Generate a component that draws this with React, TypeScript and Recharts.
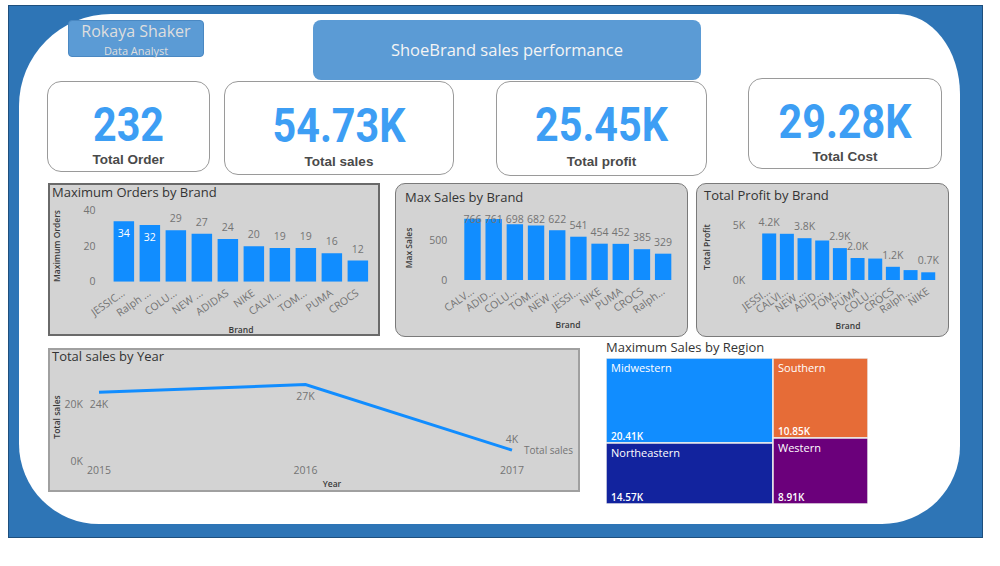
import React from 'react';
import {
  Bar,
  BarChart,
  Label,
  LabelList,
  Line,
  LineChart,
  Treemap,
  XAxis,
  YAxis
} from 'recharts';

// ---- data ----
const kpiLabels = ['Total Order', 'Total sales', 'Total profit', 'Total Cost'];
const kpiValues = ['232', '54.73K', '25.45K', '29.28K'];

const orderBrands = ['JESSIC...', 'Ralph ...', 'COLU...', 'NEW ...', 'ADIDAS', 'NIKE', 'CALVI...', 'TOM...', 'PUMA', 'CROCS'];
const orderCounts = [34, 32, 29, 27, 24, 20, 19, 19, 16, 12];

const salesBrands = ['CALV...', 'ADID...', 'COLU...', 'TOM...', 'NEW ...', 'JESSI...', 'NIKE', 'PUMA', 'CROCS', 'Ralph...'];
const maxSales = [766, 761, 698, 682, 622, 541, 454, 452, 385, 329];

const profitBrands = ['JESSI...', 'CALVI...', 'NEW ...', 'ADID...', 'TOM...', 'PUMA', 'COLU...', 'CROCS', 'Ralph...', 'NIKE'];
const profits = [4230, 4200, 3800, 3600, 2900, 2000, 1950, 1200, 900, 700];
// Power BI hides the labels that would collide
const profitLabelShown = [true, false, true, false, true, true, false, true, false, true];

const years = [2015, 2016, 2017];
const yearSales = [24100, 26800, 3830];

const regions = ['Midwestern', 'Northeastern', 'Southern', 'Western'];
const regionSales = [20410, 14570, 10850, 8910];
const regionColors = ['#118dff', '#12239e', '#e66c37', '#6b007b'];

const FONT = '"Open Sans", "Noto Sans", sans-serif';
const BLUE = '#118dff';
const GRAY = '#747474';
const DARK = '#3a3a3a';

type Box = { x: number; y: number; w: number; h: number };
type Plot = { left: number; right: number; top: number; bottom: number };

const fmtK0 = (v: number) => `${Math.round(v / 1000)}K`;
const fmtK1 = (v: number) => `${(v / 1000).toFixed(1)}K`;

const AngledTick = (props: any) => {
  const { x, y, payload } = props;
  const ax = x + 2;
  const ay = y + 13;
  return (
    <text
      x={ax}
      y={ay}
      textAnchor="end"
      transform={`rotate(-35 ${ax} ${ay})`}
      fill={GRAY}
      fontSize={10.5}
      fontFamily={FONT}
    >
      {payload.value}
    </text>
  );
};

type BrandChartProps = {
  data: { brand: string; value: number }[];
  box: Box;
  plot: Plot;
  barSize: number;
  domain: [number, number];
  ticks: number[];
  tickFmt: (v: number) => string;
  labelFmt: (v: number) => string;
  labelMode: 'inside' | 'clamp';
  shown?: boolean[];
  yTitle: string;
  yTitleAt: [number, number];
  xTitleAt: [number, number];
};

const BrandBarChart = ({
  data,
  box,
  plot,
  barSize,
  domain,
  ticks,
  tickFmt,
  labelFmt,
  labelMode,
  shown,
  yTitle,
  yTitleAt,
  xTitleAt
}: BrandChartProps) => {
  const plotTop = plot.top - box.y;
  const ValueLabel = (p: any) => {
    const { x, y, width, value, index } = p;
    if (shown && !shown[index]) return null;
    const cx = Number(x) + Number(width) / 2;
    let cy = Number(y) - 11.5;
    let fill = GRAY;
    if (labelMode === 'inside' && cy < plotTop + 5) {
      cy = Number(y) + 12;
      fill = '#ffffff';
    }
    if (labelMode === 'clamp') cy = Math.max(cy, plotTop + 3);
    return (
      <text x={cx} y={cy} dy="0.35em" textAnchor="middle" fill={fill} fontSize={10.5} fontFamily={FONT}>
        {labelFmt(value)}
      </text>
    );
  };
  const ty = yTitleAt[0] - box.x;
  const tyy = yTitleAt[1] - box.y;
  return (
    <div style={{ position: 'absolute', left: box.x, top: box.y }}>
      <BarChart
        width={box.w}
        height={box.h}
        data={data}
        margin={{ top: plotTop, right: box.x + box.w - plot.right, bottom: 0, left: 0 }}
      >
        <XAxis
          dataKey="brand"
          interval={0}
          axisLine={false}
          tickLine={false}
          tickSize={0}
          tickMargin={0}
          height={box.y + box.h - plot.bottom}
          tick={AngledTick}
        >
          <Label
            content={() => (
              <text
                x={xTitleAt[0] - box.x}
                y={xTitleAt[1] - box.y}
                dy="0.35em"
                textAnchor="middle"
                fill={DARK}
                fontSize={8.5}
                fontWeight={600}
                fontFamily={FONT}
              >
                Brand
              </text>
            )}
          />
        </XAxis>
        <YAxis
          width={plot.left - box.x}
          domain={domain}
          ticks={ticks}
          allowDataOverflow
          axisLine={false}
          tickLine={false}
          tickSize={0}
          tickMargin={15}
          tickFormatter={tickFmt}
          tick={{ fill: GRAY, fontSize: 10.5, fontFamily: FONT }}
        >
          <Label
            content={() => (
              <text
                x={ty}
                y={tyy}
                dy="0.35em"
                textAnchor="middle"
                transform={`rotate(-90 ${ty} ${tyy})`}
                fill={DARK}
                fontSize={8.5}
                fontWeight={600}
                fontFamily={FONT}
              >
                {yTitle}
              </text>
            )}
          />
        </YAxis>
        <Bar dataKey="value" fill={BLUE} barSize={barSize} isAnimationActive={false}>
          <LabelList dataKey="value" content={ValueLabel} />
        </Bar>
      </BarChart>
    </div>
  );
};

const SalesYearChart = () => {
  const box: Box = { x: 48, y: 348, w: 532, h: 144 };
  const plot: Plot = { left: 99, right: 512, top: 375.5, bottom: 461 };
  const data = years.map((year, i) => ({ year, sales: yearSales[i] }));
  const plotBottom = plot.bottom - box.y;
  const PointLabel = (p: any) => {
    const { x, y, value, index } = p;
    const px = Number(x);
    const py = Number(y);
    const above = py > plotBottom - 20;
    return (
      <g>
        <text
          x={px}
          y={above ? py - 11 : py + 12}
          dy="0.35em"
          textAnchor="middle"
          fill={GRAY}
          fontSize={10.5}
          fontFamily={FONT}
        >
          {fmtK0(value)}
        </text>
        {index === data.length - 1 && (
          <text x={px + 12} y={py} dy="0.35em" fill={GRAY} fontSize={10} fontFamily={FONT}>
            Total sales
          </text>
        )}
      </g>
    );
  };
  const tx = 57 - box.x;
  const tyy = 417 - box.y;
  return (
    <div style={{ position: 'absolute', left: box.x, top: box.y }}>
      <LineChart
        width={box.w}
        height={box.h}
        data={data}
        margin={{ top: plot.top - box.y, right: box.x + box.w - plot.right, bottom: 0, left: 0 }}
      >
        <XAxis
          dataKey="year"
          type="number"
          domain={[2015, 2017]}
          ticks={years}
          axisLine={false}
          tickLine={false}
          tickSize={0}
          tickMargin={6}
          height={box.y + box.h - plot.bottom}
          tick={{ fill: GRAY, fontSize: 10.5, fontFamily: FONT }}
        >
          <Label
            content={() => (
              <text
                x={332 - box.x}
                y={484 - box.y}
                dy="0.35em"
                textAnchor="middle"
                fill={DARK}
                fontSize={8.5}
                fontWeight={600}
                fontFamily={FONT}
              >
                Year
              </text>
            )}
          />
        </XAxis>
        <YAxis
          width={plot.left - box.x}
          domain={[0, 30000]}
          ticks={[0, 20000]}
          axisLine={false}
          tickLine={false}
          tickSize={0}
          tickMargin={16}
          tickFormatter={fmtK0}
          tick={{ fill: GRAY, fontSize: 10.5, fontFamily: FONT }}
        >
          <Label
            content={() => (
              <text
                x={tx}
                y={tyy}
                dy="0.35em"
                textAnchor="middle"
                transform={`rotate(-90 ${tx} ${tyy})`}
                fill={DARK}
                fontSize={8.5}
                fontWeight={600}
                fontFamily={FONT}
              >
                Total sales
              </text>
            )}
          />
        </YAxis>
        <Line dataKey="sales" stroke={BLUE} strokeWidth={3} dot={false} isAnimationActive={false}>
          <LabelList dataKey="sales" content={PointLabel} />
        </Line>
      </LineChart>
    </div>
  );
};

const RegionCell = (props: any) => {
  const { x, y, width, height, name, value, depth } = props;
  if (depth !== 1) return <g />;
  const color = regionColors[regions.indexOf(name)];
  return (
    <g>
      <rect x={x} y={y} width={width} height={height} fill={color} stroke="#ececec" strokeWidth={1.5} />
      <text x={x + 5} y={y + 10} dy="0.35em" fill="#ffffff" fontSize={11} fontFamily={FONT}>
        {name}
      </text>
      <text x={x + 5} y={y + height - 7} dy="0.35em" fill="#ffffff" fontSize={10} fontWeight={600} fontFamily={FONT}>
        {(value / 1000).toFixed(2)}K
      </text>
    </g>
  );
};

const RegionTreemap = () => {
  const data = regions.map((name, i) => ({ name, value: regionSales[i] }));
  return (
    <div style={{ position: 'absolute', left: 606, top: 358 }}>
      <Treemap
        width={262}
        height={146}
        data={data}
        dataKey="value"
        nameKey="name"
        isAnimationActive={false}
        content={<RegionCell />}
      />
    </div>
  );
};

const Title = ({ x, y, text, size = 13 }: { x: number; y: number; text: string; size?: number }) => (
  <div
    style={{
      position: 'absolute',
      left: x,
      top: y - size / 2,
      fontSize: size,
      lineHeight: `${size}px`,
      color: '#333',
      whiteSpace: 'nowrap'
    }}
  >
    {text}
  </div>
);

const kpiBoxes: Box[] = [
  { x: 47, y: 81, w: 163, h: 91 },
  { x: 224, y: 81, w: 230, h: 94 },
  { x: 496, y: 81, w: 211, h: 95 },
  { x: 748, y: 78, w: 194, h: 91 }
];
const kpiValueY = [125, 126, 125, 122];
const kpiLabelY = [160, 161.5, 161.5, 157];

const KpiCard = ({ i }: { i: number }) => {
  const b = kpiBoxes[i];
  return (
    <div
      style={{
        position: 'absolute',
        left: b.x,
        top: b.y,
        width: b.w,
        height: b.h,
        border: '1px solid #9a9a9a',
        borderRadius: 14,
        background: '#fff',
        boxSizing: 'border-box'
      }}
    >
      <div
        style={{
          position: 'absolute',
          left: 0,
          right: 0,
          top: kpiValueY[i] - b.y - 1 - 24,
          textAlign: 'center',
          fontFamily: 'Roboto, sans-serif',
          fontWeight: 700,
          fontSize: 48,
          lineHeight: '48px',
          color: '#3d9ef4',
          transform: 'scaleX(0.86)'
        }}
      >
        {kpiValues[i]}
      </div>
      <div
        style={{
          position: 'absolute',
          left: 0,
          right: 0,
          top: kpiLabelY[i] - b.y - 1 - 7,
          textAlign: 'center',
          fontFamily: '"Liberation Sans", Arial, sans-serif',
          fontWeight: 700,
          fontSize: 13.5,
          lineHeight: '14px',
          color: '#4a4a4a'
        }}
      >
        {kpiLabels[i]}
      </div>
    </div>
  );
};

const panel = (b: Box, radius: number, border: string) => (
  <div
    style={{
      position: 'absolute',
      left: b.x,
      top: b.y,
      width: b.w,
      height: b.h,
      background: '#d3d3d3',
      border,
      borderRadius: radius,
      boxSizing: 'border-box'
    }}
  />
);

export default function App() {
  const ordersData = orderBrands.map((brand, i) => ({ brand, value: orderCounts[i] }));
  const salesData = salesBrands.map((brand, i) => ({ brand, value: maxSales[i] }));
  const profitData = profitBrands.map((brand, i) => ({ brand, value: profits[i] }));

  const boxA: Box = { x: 48, y: 183, w: 332, h: 153 };
  const boxB: Box = { x: 395, y: 183, w: 293, h: 154 };
  const boxC: Box = { x: 696, y: 183, w: 253, h: 154 };
  const boxL: Box = { x: 48, y: 348, w: 532, h: 144 };

  return (
    <div
      style={{
        position: 'absolute',
        left: 0,
        top: 0,
        width: 1000,
        height: 566,
        background: '#fff',
        overflow: 'hidden',
        fontFamily: FONT
      }}
    >
      {/* blue frame with the white rounded canvas */}
      <div
        style={{
          position: 'absolute',
          left: 8,
          top: 5,
          width: 975,
          height: 533,
          background: '#2e75b6',
          border: '1px solid #1e4f7d',
          boxSizing: 'border-box'
        }}
      />
      <div
        style={{
          position: 'absolute',
          left: 19,
          top: 14,
          width: 941,
          height: 510,
          background: '#fff',
          borderRadius: '92px 62px 78px 80px / 92px 80px 78px 80px'
        }}
      />

      {/* name badge */}
      <div
        style={{
          position: 'absolute',
          left: 68,
          top: 20,
          width: 136,
          height: 37,
          background: '#5b9bd5',
          border: '1px solid #4a88c2',
          borderRadius: 4,
          boxSizing: 'border-box',
          textAlign: 'center',
          color: '#dedede'
        }}
      >
        <div style={{ position: 'absolute', left: 0, right: 0, top: 2, fontSize: 16, lineHeight: '16px' }}>
          Rokaya Shaker
        </div>
        <div style={{ position: 'absolute', left: 0, right: 0, top: 24, fontSize: 11, lineHeight: '11px' }}>
          Data Analyst
        </div>
      </div>

      {/* report title */}
      <div
        style={{
          position: 'absolute',
          left: 313,
          top: 20,
          width: 388,
          height: 60,
          background: '#5b9bd5',
          borderRadius: 8,
          color: '#f4f4f4',
          fontSize: 16.5,
          lineHeight: '60px',
          textAlign: 'center'
        }}
      >
        ShoeBrand sales performance
      </div>

      {kpiBoxes.map((_, i) => (
        <KpiCard key={i} i={i} />
      ))}

      {panel(boxA, 0, '2px solid #6a6a6a')}
      {panel(boxB, 10, '1.5px solid #7a7a7a')}
      {panel(boxC, 10, '1.5px solid #7a7a7a')}
      {panel(boxL, 0, '2px solid #a0a0a0')}

      <Title x={52} y={192} text="Maximum Orders by Brand" />
      <Title x={405} y={197} text="Max Sales by Brand" />
      <Title x={704} y={195} text="Total Profit by Brand" />
      <Title x={52} y={356} text="Total sales by Year" />
      <Title x={606} y={347} text="Maximum Sales by Region" />

      <BrandBarChart
        data={ordersData}
        box={boxA}
        plot={{ left: 110.6, right: 370.6, top: 210.7, bottom: 281.7 }}
        barSize={20.5}
        domain={[0, 40]}
        ticks={[0, 20, 40]}
        tickFmt={(v) => `${v}`}
        labelFmt={(v) => `${v}`}
        labelMode="inside"
        yTitle="Maximum Orders"
        yTitleAt={[57, 246]}
        xTitleAt={[241, 330]}
      />
      <BrandBarChart
        data={salesData}
        box={boxB}
        plot={{ left: 462.3, right: 674.1, top: 216, bottom: 280 }}
        barSize={16.4}
        domain={[0, 800]}
        ticks={[0, 500]}
        tickFmt={(v) => `${v}`}
        labelFmt={(v) => `${v}`}
        labelMode="clamp"
        yTitle="Max Sales"
        yTitleAt={[408.7, 248]}
        xTitleAt={[568, 325]}
      />
      <BrandBarChart
        data={profitData}
        box={boxC}
        plot={{ left: 760.2, right: 936.9, top: 214, bottom: 280 }}
        barSize={14}
        domain={[0, 6000]}
        ticks={[0, 5000]}
        tickFmt={fmtK0}
        labelFmt={fmtK1}
        labelMode="clamp"
        shown={profitLabelShown}
        yTitle="Total Profit"
        yTitleAt={[707, 247]}
        xTitleAt={[848, 326]}
      />

      <SalesYearChart />
      <RegionTreemap />
    </div>
  );
}
